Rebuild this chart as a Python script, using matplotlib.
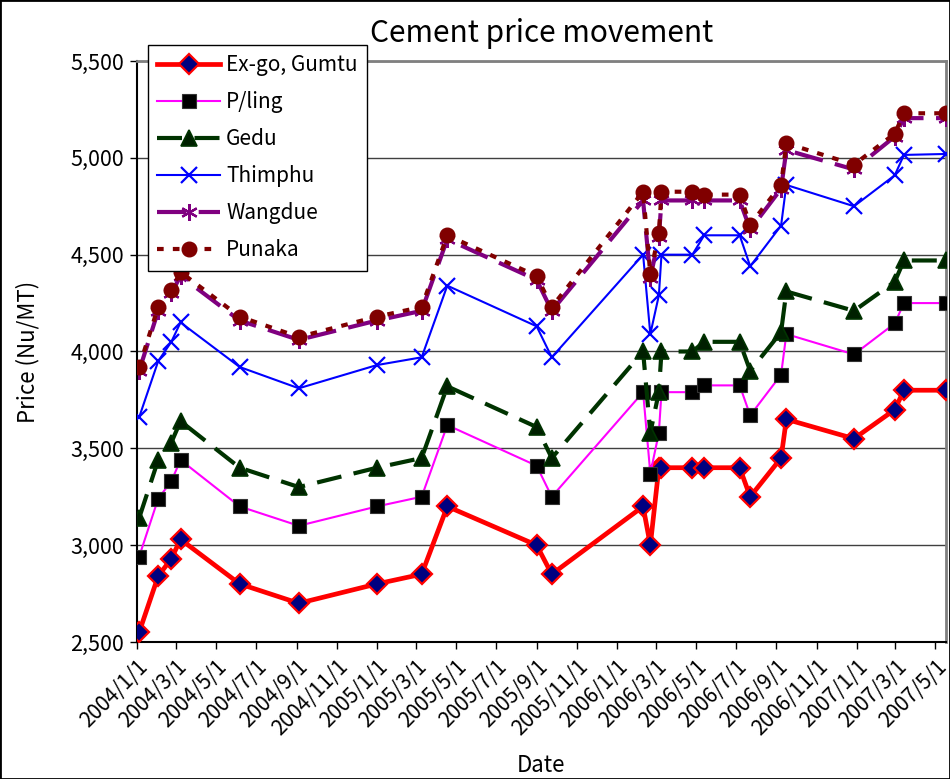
import matplotlib
matplotlib.use("Agg")
import matplotlib.pyplot as plt
import matplotlib.dates as mdates
from matplotlib.ticker import FuncFormatter, FixedLocator
from matplotlib.patches import Rectangle
from datetime import datetime

plt.rcParams['font.family'] = ['Noto Sans CJK JP', 'DejaVu Sans']

dates = ["2004/1/5", "2004/2/3", "2004/2/23", "2004/3/8", "2004/6/6", "2004/9/4",
         "2005/1/1", "2005/3/10", "2005/4/18", "2005/9/1", "2005/9/24",
         "2006/2/10", "2006/2/21", "2006/3/6", "2006/3/10", "2006/4/26", "2006/5/14",
         "2006/7/7", "2006/7/23", "2006/9/8", "2006/9/16", "2006/12/28",
         "2007/2/28", "2007/3/14", "2007/5/17"]

exgo    = [2550, 2840, 2930, 3030, 2800, 2700, 2800, 2850, 3200, 3000, 2850,
           3200, 3000, 3400, 3400, 3400, 3400, 3400, 3250, 3450, 3650, 3550,
           3700, 3800, 3800]
pling   = [2940, 3240, 3330, 3440, 3200, 3100, 3200, 3250, 3620, 3410, 3250,
           3790, 3370, 3580, 3790, 3790, 3825, 3825, 3670, 3880, 4090, 3985,
           4145, 4250, 4250]
gedu    = [3140, 3440, 3530, 3640, 3400, 3300, 3400, 3450, 3820, 3610, 3450,
           4000, 3580, 3790, 4000, 4000, 4050, 4050, 3900, 4100, 4310, 4210,
           4360, 4470, 4470]
thimphu = [3660, 3950, 4050, 4150, 3920, 3810, 3930, 3970, 4340, 4130, 3970,
           4500, 4090, 4290, 4500, 4500, 4600, 4600, 4440, 4650, 4860, 4750,
           4910, 5015, 5020]
wangdue = [3900, 4210, 4300, 4390, 4160, 4060, 4160, 4210, 4580, 4370, 4210,
           4780, 4380, 4590, 4780, 4780, 4780, 4780, 4630, 4840, 5040, 4940,
           5110, 5205, 5205]
punaka  = [3920, 4230, 4320, 4410, 4180, 4075, 4180, 4230, 4600, 4390, 4230,
           4825, 4400, 4610, 4825, 4825, 4810, 4810, 4655, 4860, 5075, 4965,
           5125, 5230, 5230]

tick_labels = ["2004/1/1", "2004/3/1", "2004/5/1", "2004/7/1", "2004/9/1", "2004/11/1",
               "2005/1/1", "2005/3/1", "2005/5/1", "2005/7/1", "2005/9/1", "2005/11/1",
               "2006/1/1", "2006/3/1", "2006/5/1", "2006/7/1", "2006/9/1", "2006/11/1",
               "2007/1/1", "2007/3/1", "2007/5/1"]
y_ticks = [2500, 3000, 3500, 4000, 4500, 5000, 5500]

def pd_(s):
    return datetime.strptime(s, "%Y/%m/%d")

x = [pd_(d) for d in dates]

W, H = 950, 779
fig = plt.figure(figsize=(W / 100, H / 100), dpi=100)
L, R, T, B = 136.5, 946, 61, 642
ax = fig.add_axes([L / W, 1 - B / H, (R - L) / W, (B - T) / H])

ax.plot(x, exgo, color='#FF0000', lw=3.4, marker='D', markersize=10,
        markerfacecolor='#000080', markeredgecolor='#FF0000', markeredgewidth=1.6,
        label='Ex-go, Gumtu', zorder=3)
ax.plot(x, pling, color='#FF00FF', lw=1.5, marker='s', markersize=10,
        markerfacecolor='black', markeredgecolor='#333333', markeredgewidth=0.8,
        label='P/ling', zorder=4)
ax.plot(x, gedu, color='#003300', lw=3.0, dashes=(6, 3), marker='^', markersize=12,
        markerfacecolor='#002000', markeredgecolor='#003300', markeredgewidth=1.2,
        label='Gedu', zorder=5)
ax.plot(x, thimphu, color='#0000FF', lw=1.5, marker='x', markersize=12,
        markeredgewidth=1.6, label='Thimphu', zorder=6)
ax.plot(x, wangdue, color='#800080', lw=3.0, dashes=(7, 3), marker=(6, 2, 0),
        markersize=12, markeredgewidth=1.6, markeredgecolor='#800080',
        label='Wangdue', zorder=7)
ax.plot(x, punaka, color='#800000', lw=3.0, dashes=(1.6, 2.2), marker='o',
        markersize=10.5, markerfacecolor='#800000', markeredgecolor='#800000',
        label='Punaka', zorder=8)

ax.set_xlim(pd_("2004/1/1"), pd_("2007/5/17"))
ax.set_ylim(2500, 5500)
ax.set_yticks(y_ticks)
ax.yaxis.set_major_formatter(FuncFormatter(lambda v, p: f"{int(v):,}"))
tick_pos = [mdates.date2num(pd_(t)) for t in tick_labels]
ax.xaxis.set_major_locator(FixedLocator(tick_pos))
ax.set_xticklabels(tick_labels, rotation=45, ha='right', rotation_mode='anchor',
                   fontsize=15)
ax.tick_params(axis='x', length=5, width=1, direction='out', pad=5)
ax.tick_params(axis='y', length=5, width=1, direction='out', labelsize=15.5, pad=4)

ax.grid(axis='y', color='#404040', lw=1.0)
ax.set_axisbelow(True)
for s in ['left', 'bottom']:
    ax.spines[s].set_color('black')
    ax.spines[s].set_linewidth(1.5)
for s in ['top', 'right']:
    ax.spines[s].set_color('#808080')
    ax.spines[s].set_linewidth(2)

ax.set_title("Cement price movement", fontsize=21.5, pad=14)
ax.set_ylabel("Price (Nu/MT)", fontsize=16, labelpad=22)
ax.set_xlabel("Date", fontsize=16, labelpad=10)

leg = ax.legend(loc='upper left', bbox_to_anchor=(148 / W, 1 - 45 / H),
                bbox_transform=fig.transFigure, frameon=True, fancybox=False,
                edgecolor='black', framealpha=1, fontsize=15, handlelength=3.0,
                labelspacing=0.72, borderpad=0.45, handletextpad=0.3, borderaxespad=0)
leg.get_frame().set_linewidth(1.0)
leg.set_zorder(20)

fig.patches.append(Rectangle((0, 0), 1, 1, transform=fig.transFigure, fill=False,
                             edgecolor='black', lw=2))

fig.savefig("out.png", dpi=100)
